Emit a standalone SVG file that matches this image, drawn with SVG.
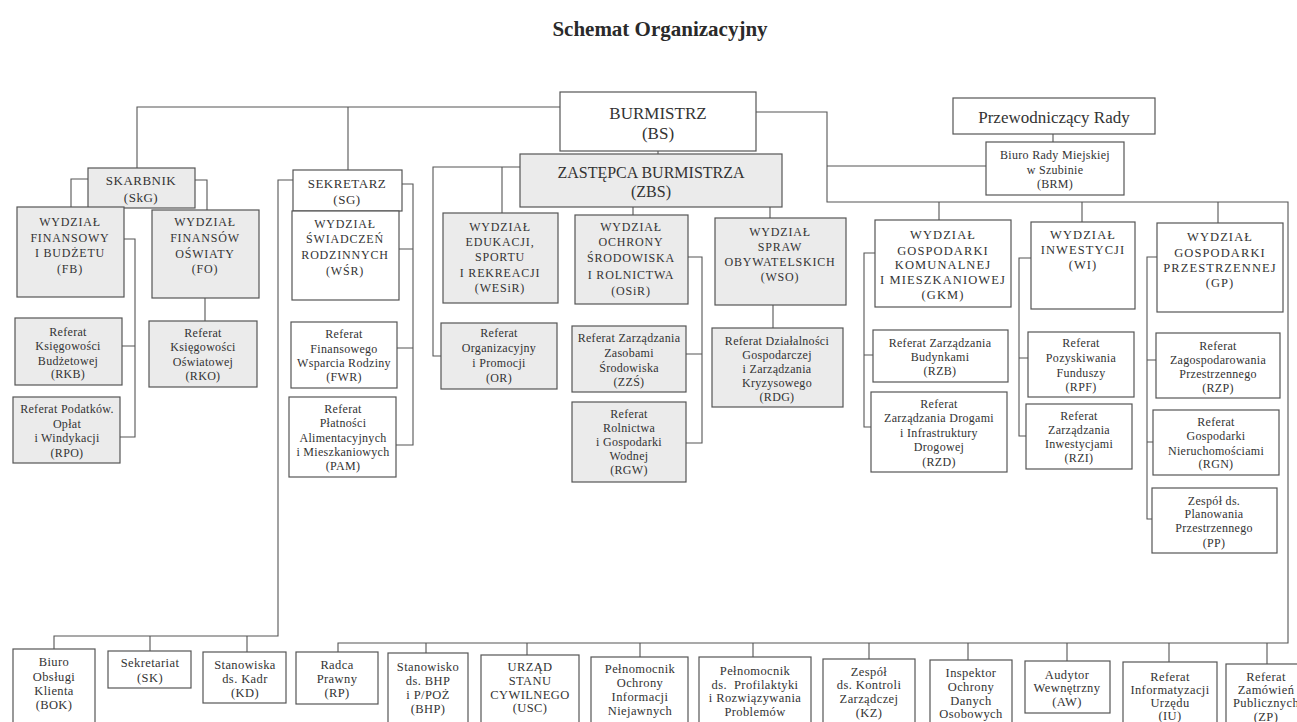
<svg xmlns="http://www.w3.org/2000/svg" width="1297" height="722" viewBox="0 0 1297 722">
<style>
.bg{fill:#ffffff}
.box{fill:#ffffff;stroke:#555;stroke-width:1.2}
.g{fill:#ebebeb}
.ln{fill:none;stroke:#555;stroke-width:1.1}
text{font-family:"Liberation Serif","DejaVu Serif",serif;fill:#333;text-anchor:middle}
.title{font-size:21px;font-weight:bold;fill:#2a2a2a}
.big{font-size:17px}
.zbs{font-size:16px}
.hd{font-size:13px;letter-spacing:0.5px}
.dept{font-size:12px;letter-spacing:0.8px}
.deptw{font-size:12.5px;letter-spacing:1.1px}
.ref{font-size:12px;letter-spacing:0.3px}
.bot{font-size:12.5px;letter-spacing:0.4px}
</style>
<rect class="bg" x="0" y="0" width="1297" height="722"/>
<text class="title" x="660" y="36">Schemat Organizacyjny</text>

<g id="connectors">
<path class="ln" d="M137,168 V107 H560"/>
<path class="ln" d="M348,107 V170"/>
<path class="ln" d="M658,151 V154"/>
<path class="ln" d="M756,112 H827 V202 H1288 V643 H338 V652"/>
<path class="ln" d="M827,166 H986"/>
<path class="ln" d="M939,202 V220 M1082,202 V222 M1218,202 V223"/>
<path class="ln" d="M1053,134 V142"/>
<path class="ln" d="M520,167 H433 V356 H441 M502,167 V213"/>
<path class="ln" d="M633,207 V215 M770,207 V218"/>
<path class="ln" d="M688,257 H702 V443 H686 M702,354 H686"/>
<path class="ln" d="M773,305 V328"/>
<path class="ln" d="M88,179 H71 V207 M195,180 H207 V210"/>
<path class="ln" d="M124,239 H135 V437 H120 M135,346 H122"/>
<path class="ln" d="M205,298 V321"/>
<path class="ln" d="M293,180 H278 V636 H54 V649 M150,636 V651 M247,636 V652"/>
<path class="ln" d="M402,184 H413 V445 H396 M399,249 H413 M413,348 H397"/>
<path class="ln" d="M875,253 H864 V427 H871 M864,355 H873"/>
<path class="ln" d="M1031,258 H1019 V436 H1026 M1019,358 H1028"/>
<path class="ln" d="M1157,257 H1147 V519 H1152 M1147,360 H1156 M1147,442 H1153"/>
<path class="ln" d="M426,643 V653 M527,643 V655 M640,643 V657 M753,643 V657 M869,643 V659 M968,643 V660 M1067,643 V661 M1169,643 V662 M1267,643 V664"/>
</g>

<g id="BS"><rect class="box" x="560" y="92" width="196" height="59"/>
<text class="big"><tspan x="658" y="119">BURMISTRZ</tspan><tspan x="658" y="139">(BS)</tspan></text></g>

<g id="ZBS"><rect class="box g" x="520" y="154" width="262" height="53"/>
<text class="zbs"><tspan x="651" y="178">ZASTĘPCA BURMISTRZA</tspan><tspan x="651" y="197">(ZBS)</tspan></text></g>

<g id="SkG"><rect class="box g" x="88" y="168" width="107" height="40"/>
<text class="hd"><tspan x="141" y="185">SKARBNIK</tspan><tspan x="141" y="202">(SkG)</tspan></text></g>

<g id="FB"><rect class="box g" x="17" y="207" width="107" height="90"/>
<text class="dept"><tspan x="70" y="226">WYDZIAŁ</tspan><tspan x="70" y="242">FINANSOWY</tspan><tspan x="70" y="257">I BUDŻETU</tspan><tspan x="70" y="273">(FB)</tspan></text></g>

<g id="FO"><rect class="box g" x="152" y="210" width="107" height="88"/>
<text class="dept"><tspan x="205" y="226">WYDZIAŁ</tspan><tspan x="205" y="242">FINANSÓW</tspan><tspan x="205" y="258">OŚWIATY</tspan><tspan x="205" y="273">(FO)</tspan></text></g>

<g id="RKB"><rect class="box g" x="15" y="318" width="107" height="67"/>
<text class="ref"><tspan x="68" y="336">Referat</tspan><tspan x="68" y="350">Księgowości</tspan><tspan x="68" y="365">Budżetowej</tspan><tspan x="68" y="378">(RKB)</tspan></text></g>

<g id="RPO"><rect class="box g" x="13" y="397" width="107" height="66"/>
<text class="ref"><tspan x="67" y="413">Referat Podatków.</tspan><tspan x="67" y="428">Opłat</tspan><tspan x="67" y="442">i Windykacji</tspan><tspan x="67" y="457">(RPO)</tspan></text></g>

<g id="RKO"><rect class="box g" x="149" y="321" width="108" height="66"/>
<text class="ref"><tspan x="203" y="337">Referat</tspan><tspan x="203" y="351">Księgowości</tspan><tspan x="203" y="366">Oświatowej</tspan><tspan x="203" y="380">(RKO)</tspan></text></g>

<g id="SG"><rect class="box" x="293" y="170" width="109" height="41"/>
<text class="hd"><tspan x="347" y="188">SEKRETARZ</tspan><tspan x="347" y="204">(SG)</tspan></text></g>

<g id="WSR"><rect class="box" x="292" y="211" width="107" height="89"/>
<text class="dept"><tspan x="345" y="228">WYDZIAŁ</tspan><tspan x="345" y="243">ŚWIADCZEŃ</tspan><tspan x="345" y="259">RODZINNYCH</tspan><tspan x="345" y="275">(WŚR)</tspan></text></g>

<g id="FWR"><rect class="box" x="291" y="322" width="106" height="66"/>
<text class="ref"><tspan x="344" y="338">Referat</tspan><tspan x="344" y="353">Finansowego</tspan><tspan x="344" y="367">Wsparcia Rodziny</tspan><tspan x="344" y="381">(FWR)</tspan></text></g>

<g id="PAM"><rect class="box" x="289" y="397" width="107" height="80"/>
<text class="ref"><tspan x="343" y="413">Referat</tspan><tspan x="343" y="427">Płatności</tspan><tspan x="343" y="442">Alimentacyjnych</tspan><tspan x="343" y="456">i Mieszkaniowych</tspan><tspan x="343" y="470">(PAM)</tspan></text></g>

<g id="WESiR"><rect class="box g" x="443" y="213" width="115" height="90"/>
<text class="dept"><tspan x="500" y="231">WYDZIAŁ</tspan><tspan x="500" y="246">EDUKACJI,</tspan><tspan x="500" y="261">SPORTU</tspan><tspan x="500" y="277">I REKREACJI</tspan><tspan x="500" y="292">(WESiR)</tspan></text></g>

<g id="OSiR"><rect class="box g" x="575" y="215" width="113" height="89"/>
<text class="dept"><tspan x="631" y="231">WYDZIAŁ</tspan><tspan x="631" y="246">OCHRONY</tspan><tspan x="631" y="262">ŚRODOWISKA</tspan><tspan x="631" y="279">I ROLNICTWA</tspan><tspan x="631" y="295">(OSiR)</tspan></text></g>

<g id="WSO"><rect class="box g" x="715" y="218" width="131" height="87"/>
<text class="dept"><tspan x="780" y="236">WYDZIAŁ</tspan><tspan x="780" y="251">SPRAW</tspan><tspan x="780" y="266">OBYWATELSKICH</tspan><tspan x="780" y="281">(WSO)</tspan></text></g>

<g id="OR"><rect class="box g" x="441" y="323" width="116" height="66"/>
<text class="ref"><tspan x="499" y="337">Referat</tspan><tspan x="499" y="352">Organizacyjny</tspan><tspan x="499" y="367">i Promocji</tspan><tspan x="499" y="382">(OR)</tspan></text></g>

<g id="ZZS"><rect class="box g" x="572" y="326" width="114" height="66"/>
<text class="ref"><tspan x="629" y="342">Referat Zarządzania</tspan><tspan x="629" y="357">Zasobami</tspan><tspan x="629" y="372">Środowiska</tspan><tspan x="629" y="386">(ZZŚ)</tspan></text></g>

<g id="RGW"><rect class="box g" x="572" y="402" width="114" height="80"/>
<text class="ref"><tspan x="629" y="418">Referat</tspan><tspan x="629" y="432">Rolnictwa</tspan><tspan x="629" y="446">i Gospodarki</tspan><tspan x="629" y="460">Wodnej</tspan><tspan x="629" y="474">(RGW)</tspan></text></g>

<g id="RDG"><rect class="box g" x="712" y="328" width="131" height="79"/>
<text class="ref"><tspan x="777" y="345">Referat Działalności</tspan><tspan x="777" y="359">Gospodarczej</tspan><tspan x="777" y="373">i Zarządzania</tspan><tspan x="777" y="387">Kryzysowego</tspan><tspan x="777" y="401">(RDG)</tspan></text></g>

<g id="PR"><rect class="box" x="953" y="98" width="202" height="36"/>
<text class="big"><tspan x="1054" y="123">Przewodniczący Rady</tspan></text></g>

<g id="BRM"><rect class="box" x="986" y="142" width="138" height="53"/>
<text class="ref"><tspan x="1055" y="159">Biuro Rady Miejskiej</tspan><tspan x="1055" y="174">w Szubinie</tspan><tspan x="1055" y="188">(BRM)</tspan></text></g>

<g id="GKM"><rect class="box" x="875" y="220" width="136" height="87"/>
<text class="deptw"><tspan x="943" y="239">WYDZIAŁ</tspan><tspan x="943" y="255">GOSPODARKI</tspan><tspan x="943" y="269">KOMUNALNEJ</tspan><tspan x="943" y="284">I MIESZKANIOWEJ</tspan><tspan x="943" y="299">(GKM)</tspan></text></g>

<g id="WI"><rect class="box" x="1031" y="222" width="104" height="87"/>
<text class="deptw"><tspan x="1083" y="239">WYDZIAŁ</tspan><tspan x="1083" y="254">INWESTYCJI</tspan><tspan x="1083" y="269">(WI)</tspan></text></g>

<g id="GP"><rect class="box" x="1157" y="223" width="126" height="89"/>
<text class="deptw"><tspan x="1220" y="241">WYDZIAŁ</tspan><tspan x="1220" y="257">GOSPODARKI</tspan><tspan x="1220" y="272">PRZESTRZENNEJ</tspan><tspan x="1220" y="287">(GP)</tspan></text></g>

<g id="RZB"><rect class="box" x="873" y="330" width="135" height="52"/>
<text class="ref"><tspan x="940" y="347">Referat Zarządzania</tspan><tspan x="940" y="361">Budynkami</tspan><tspan x="940" y="375">(RZB)</tspan></text></g>

<g id="RZD"><rect class="box" x="871" y="392" width="136" height="80"/>
<text class="ref"><tspan x="939" y="408">Referat</tspan><tspan x="939" y="422">Zarządzania Drogami</tspan><tspan x="939" y="437">i Infrastruktury</tspan><tspan x="939" y="451">Drogowej</tspan><tspan x="939" y="466">(RZD)</tspan></text></g>

<g id="RPF"><rect class="box" x="1028" y="332" width="106" height="65"/>
<text class="ref"><tspan x="1081" y="347">Referat</tspan><tspan x="1081" y="362">Pozyskiwania</tspan><tspan x="1081" y="377">Funduszy</tspan><tspan x="1081" y="391">(RPF)</tspan></text></g>

<g id="RZI"><rect class="box" x="1026" y="404" width="106" height="65"/>
<text class="ref"><tspan x="1079" y="420">Referat</tspan><tspan x="1079" y="434">Zarządzania</tspan><tspan x="1079" y="448">Inwestycjami</tspan><tspan x="1079" y="462">(RZI)</tspan></text></g>

<g id="RZP"><rect class="box" x="1156" y="333" width="124" height="65"/>
<text class="ref"><tspan x="1218" y="350">Referat</tspan><tspan x="1218" y="364">Zagospodarowania</tspan><tspan x="1218" y="378">Przestrzennego</tspan><tspan x="1218" y="392">(RZP)</tspan></text></g>

<g id="RGN"><rect class="box" x="1153" y="410" width="126" height="65"/>
<text class="ref"><tspan x="1216" y="426">Referat</tspan><tspan x="1216" y="440">Gospodarki</tspan><tspan x="1216" y="455">Nieruchomościami</tspan><tspan x="1216" y="468">(RGN)</tspan></text></g>

<g id="PP"><rect class="box" x="1152" y="488" width="125" height="65"/>
<text class="ref"><tspan x="1214" y="505">Zespół ds.</tspan><tspan x="1214" y="518">Planowania</tspan><tspan x="1214" y="532">Przestrzennego</tspan><tspan x="1214" y="547">(PP)</tspan></text></g>

<g id="BOK"><rect class="box" x="13" y="649" width="82" height="90"/>
<text class="bot"><tspan x="54" y="666">Biuro</tspan><tspan x="54" y="681">Obsługi</tspan><tspan x="54" y="695">Klienta</tspan><tspan x="54" y="709">(BOK)</tspan></text></g>

<g id="SK"><rect class="box" x="108" y="651" width="83" height="37"/>
<text class="bot"><tspan x="150" y="667">Sekretariat</tspan><tspan x="150" y="682">(SK)</tspan></text></g>

<g id="KD"><rect class="box" x="203" y="652" width="83" height="51"/>
<text class="bot"><tspan x="245" y="669">Stanowiska</tspan><tspan x="245" y="683">ds. Kadr</tspan><tspan x="245" y="697">(KD)</tspan></text></g>

<g id="RP"><rect class="box" x="296" y="652" width="82" height="52"/>
<text class="bot"><tspan x="337" y="669">Radca</tspan><tspan x="337" y="683">Prawny</tspan><tspan x="337" y="697">(RP)</tspan></text></g>

<g id="BHP"><rect class="box" x="388" y="653" width="80" height="90"/>
<text class="bot"><tspan x="428" y="671">Stanowisko</tspan><tspan x="428" y="685">ds. BHP</tspan><tspan x="428" y="699">i P/POŻ</tspan><tspan x="428" y="713">(BHP)</tspan></text></g>

<g id="USC"><rect class="box" x="481" y="655" width="98" height="90"/>
<text class="bot"><tspan x="530" y="671">URZĄD</tspan><tspan x="530" y="685">STANU</tspan><tspan x="530" y="699">CYWILNEGO</tspan><tspan x="530" y="712">(USC)</tspan></text></g>

<g id="POIN"><rect class="box" x="591" y="657" width="97" height="90"/>
<text class="bot"><tspan x="640" y="673">Pełnomocnik</tspan><tspan x="640" y="687">Ochrony</tspan><tspan x="640" y="701">Informacji</tspan><tspan x="640" y="715">Niejawnych</tspan></text></g>

<g id="PPR"><rect class="box" x="699" y="657" width="112" height="90"/>
<text class="bot"><tspan x="755" y="675">Pełnomocnik</tspan><tspan x="755" y="689" xml:space="preserve">ds.  Profilaktyki</tspan><tspan x="755" y="702">i Rozwiązywania</tspan><tspan x="755" y="716">Problemów</tspan></text></g>

<g id="KZ"><rect class="box" x="823" y="659" width="92" height="90"/>
<text class="bot"><tspan x="869" y="676">Zespół</tspan><tspan x="869" y="689">ds. Kontroli</tspan><tspan x="869" y="703">Zarządczej</tspan><tspan x="869" y="717">(KZ)</tspan></text></g>

<g id="IOD"><rect class="box" x="930" y="660" width="82" height="90"/>
<text class="bot"><tspan x="971" y="677">Inspektor</tspan><tspan x="971" y="691">Ochrony</tspan><tspan x="971" y="705">Danych</tspan><tspan x="971" y="718">Osobowych</tspan></text></g>

<g id="AW"><rect class="box" x="1025" y="661" width="85" height="52"/>
<text class="bot"><tspan x="1067" y="679">Audytor</tspan><tspan x="1067" y="692">Wewnętrzny</tspan><tspan x="1067" y="706">(AW)</tspan></text></g>

<g id="IU"><rect class="box" x="1123" y="662" width="94" height="90"/>
<text class="bot"><tspan x="1170" y="681">Referat</tspan><tspan x="1170" y="694">Informatyzacji</tspan><tspan x="1170" y="707">Urzędu</tspan><tspan x="1170" y="720">(IU)</tspan></text></g>

<g id="ZP"><rect class="box" x="1226" y="664" width="80" height="90"/>
<text class="bot"><tspan x="1266" y="681">Referat</tspan><tspan x="1266" y="694">Zamówień</tspan><tspan x="1266" y="707">Publicznych</tspan><tspan x="1266" y="721">(ZP)</tspan></text></g>
</svg>
